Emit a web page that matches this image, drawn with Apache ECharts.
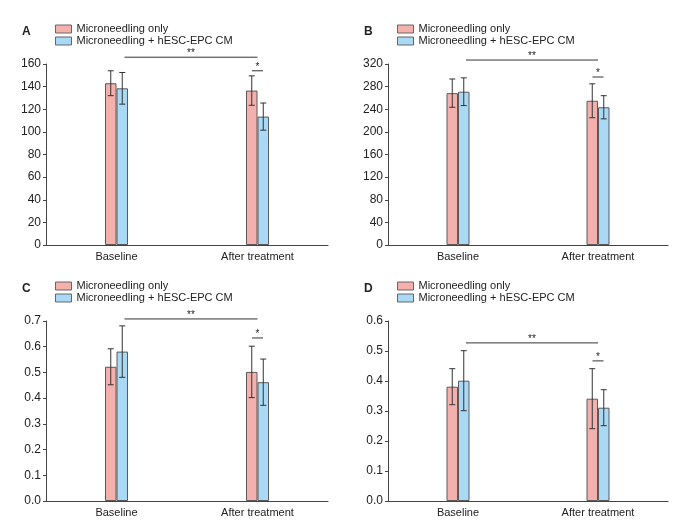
<!DOCTYPE html>
<html>
<head>
<meta charset="utf-8">
<title>Microneedling</title>
<style>
html,body{margin:0;padding:0;background:#fff;}
#main{width:690px;height:528px;}
</style>
</head>
<body>
<div id="main"></div>
<script src="https://cdn.jsdelivr.net/npm/echarts@6.0.0/dist/echarts.min.js"></script>
<script>
var categories = ['Baseline', 'After treatment'];
var seriesNames = ['Microneedling only', 'Microneedling + hESC-EPC CM'];

// panel A
var aOnly = [143, 136.5];
var aOnlySd = [11, 13];
var aCm = [138.5, 113.5];
var aCmSd = [14, 12];
var aTicks = [0, 20, 40, 60, 80, 100, 120, 140, 160];
var aSig = [166, 154];   // ** line, * line

// panel B
var bOnly = [268.5, 255];
var bOnlySd = [25, 30];
var bCm = [271, 243.5];
var bCmSd = [24.5, 20.5];
var bTicks = [0, 40, 80, 120, 160, 200, 240, 280, 320];
var bSig = [327, 297];

// panel C
var cOnly = [0.522, 0.502];
var cOnlySd = [0.07, 0.10];
var cCm = [0.581, 0.462];
var cCmSd = [0.10, 0.09];
var cTicks = [0.0, 0.1, 0.2, 0.3, 0.4, 0.5, 0.6, 0.7];
var cSig = [0.708, 0.634];

// panel D
var dOnly = [0.381, 0.341];
var dOnlySd = [0.06, 0.10];
var dCm = [0.401, 0.311];
var dCmSd = [0.10, 0.06];
var dTicks = [0.0, 0.1, 0.2, 0.3, 0.4, 0.5, 0.6];
var dSig = [0.527, 0.467];

var pinkColor = '#f4b0ac';
var blueColor = '#a9d9f4';
var font = 'Liberation Sans, Arial, sans-serif';

var panels = [
    {letter: 'A', only: aOnly, onlySd: aOnlySd, cm: aCm, cmSd: aCmSd, ticks: aTicks, sig: aSig, dec: 0,
     grid: {left: 46, top: 64, width: 282, height: 181}},
    {letter: 'B', only: bOnly, onlySd: bOnlySd, cm: bCm, cmSd: bCmSd, ticks: bTicks, sig: bSig, dec: 0,
     grid: {left: 388, top: 64, width: 280, height: 181}},
    {letter: 'C', only: cOnly, onlySd: cOnlySd, cm: cCm, cmSd: cCmSd, ticks: cTicks, sig: cSig, dec: 1,
     grid: {left: 46, top: 321, width: 282, height: 180}},
    {letter: 'D', only: dOnly, onlySd: dOnlySd, cm: dCm, cmSd: dCmSd, ticks: dTicks, sig: dSig, dec: 1,
     grid: {left: 388, top: 321, width: 280, height: 180}}
];

var barW = 11.5;

// 误差线
function errorItem(offset){
    return function(params, api){
        var cat = api.value(0);
        var hi = api.coord([cat, api.value(2)]);
        var lo = api.coord([cat, api.value(1)]);
        var x = hi[0] + offset;
        var st = {stroke: '#333', lineWidth: 1};
        return {type: 'group', children: [
            {type: 'line', shape: {x1: x, y1: hi[1], x2: x, y2: lo[1]}, style: st},
            {type: 'line', shape: {x1: x - 3, y1: hi[1], x2: x + 3, y2: hi[1]}, style: st},
            {type: 'line', shape: {x1: x - 3, y1: lo[1], x2: x + 3, y2: lo[1]}, style: st}
        ]};
    };
}

// 显著性标记
function sigItem(params, api){
    var yLong = api.value(0), yShort = api.value(1);
    var p0 = api.coord([0, yLong]);
    var p1 = api.coord([1, yLong]);
    var q = api.coord([1, yShort]);
    var st = {stroke: '#333', lineWidth: 1};
    var x0 = p0[0] + 8, x1 = p1[0];
    var starFont = '10px ' + font;
    return {type: 'group', children: [
        {type: 'line', shape: {x1: x0, y1: p0[1], x2: x1, y2: p1[1]}, style: st},
        {type: 'text', x: (x0 + x1) / 2, y: p0[1] + 1,
         style: {text: '**', fill: '#222', font: starFont, textAlign: 'center', textVerticalAlign: 'bottom'}},
        {type: 'line', shape: {x1: q[0] - 5.5, y1: q[1], x2: q[0] + 5.5, y2: q[1]}, style: st},
        {type: 'text', x: q[0], y: q[1] + 1,
         style: {text: '*', fill: '#222', font: starFont, textAlign: 'center', textVerticalAlign: 'bottom'}}
    ]};
}

var option = {
    animation: false,
    backgroundColor: '#fff',
    textStyle: {fontFamily: font},
    title: [], legend: [], grid: [], xAxis: [], yAxis: [], series: []
};

panels.forEach(function(p, i){
    var g = p.grid;
    option.grid.push({left: g.left, top: g.top, width: g.width, height: g.height});
    option.title.push({text: p.letter, left: g.left - 24, top: g.top - 38, padding: 0,
        textStyle: {fontSize: 12, fontWeight: 'bold', color: '#222', fontFamily: font}});
    option.legend.push({
        data: seriesNames, orient: 'vertical', left: g.left + 9, top: g.top - 41, padding: 0,
        icon: 'rect', itemWidth: 16, itemHeight: 8, itemGap: 0, selectedMode: false,
        itemStyle: {borderWidth: 1, borderColor: '#666'},
        textStyle: {fontSize: 11, lineHeight: 12, color: '#222', fontFamily: font}
    });
    option.xAxis.push({
        type: 'category', gridIndex: i, data: categories,
        axisLine: {lineStyle: {color: '#444'}},
        axisTick: {length: 3, lineStyle: {color: '#444'}},
        axisLabel: {fontSize: 11, color: '#222', margin: 6}
    });
    var t = p.ticks;
    option.yAxis.push({
        type: 'value', gridIndex: i, min: t[0], max: t[t.length - 1], interval: t[1] - t[0],
        splitLine: {show: false},
        axisLine: {show: true, lineStyle: {color: '#444'}},
        axisTick: {show: true, length: 3, lineStyle: {color: '#444'}},
        axisLabel: {fontSize: 12, color: '#222', margin: 5,
            formatter: function(v){ return v.toFixed(p.dec); }}
    });
    option.series.push({
        name: seriesNames[0], type: 'bar', xAxisIndex: i, yAxisIndex: i,
        barWidth: barW, barGap: '0%', data: p.only,
        itemStyle: {color: pinkColor, borderColor: '#5a5a5a', borderWidth: 1}
    });
    option.series.push({
        name: seriesNames[1], type: 'bar', xAxisIndex: i, yAxisIndex: i,
        barWidth: barW, barGap: '0%', data: p.cm,
        itemStyle: {color: blueColor, borderColor: '#5a5a5a', borderWidth: 1}
    });
    option.series.push({
        type: 'custom', xAxisIndex: i, yAxisIndex: i, z: 5, clip: false,
        renderItem: errorItem(-barW / 2),
        data: p.only.map(function(v, k){ return [k, v - p.onlySd[k], v + p.onlySd[k]]; })
    });
    option.series.push({
        type: 'custom', xAxisIndex: i, yAxisIndex: i, z: 5, clip: false,
        renderItem: errorItem(barW / 2),
        data: p.cm.map(function(v, k){ return [k, v - p.cmSd[k], v + p.cmSd[k]]; })
    });
    option.series.push({
        type: 'custom', xAxisIndex: i, yAxisIndex: i, z: 5, clip: false,
        renderItem: sigItem,
        data: [[p.sig[0], p.sig[1]]]
    });
});

var myChart = echarts.init(document.getElementById('main'));
myChart.setOption(option);
</script>
</body>
</html>
